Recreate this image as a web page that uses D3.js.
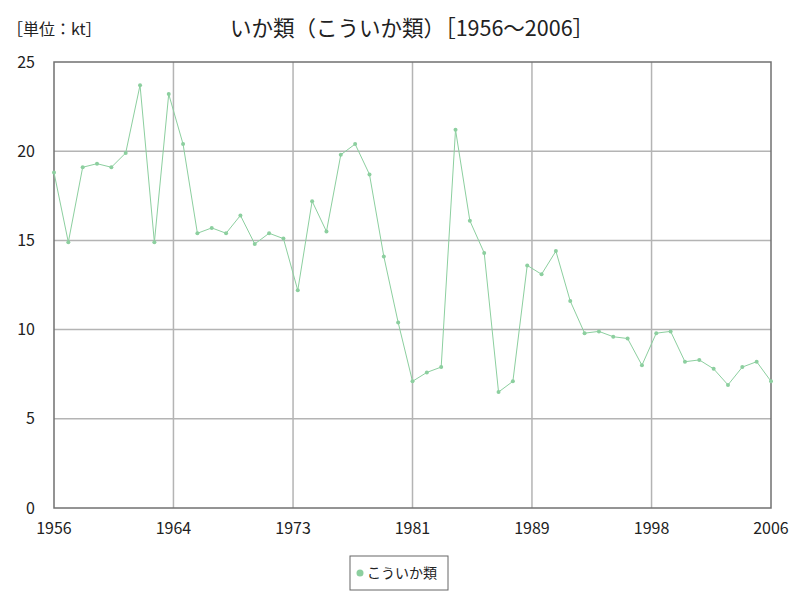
<html><head>
<meta charset="utf-8">
<script src="https://d3js.org/d3.v7.min.js"></script>
<style>
  body { margin: 0; background: #fff; }
  text { font-family: "Noto Sans CJK JP", "Noto Sans", sans-serif; fill: #222; }
  .grid line { stroke: #b4b4b4; stroke-width: 1.5px; }
</style>
</head>
<body>
<svg id="chart" width="800" height="600"></svg>
<script>
  // squid catch (kt), 1956-2006
  const years = d3.range(1956, 2007);
  const values = [
    18.8, 14.9, 19.1, 19.3, 19.1, 19.9, 23.7, 14.9, 23.2, 20.4,
    15.4, 15.7, 15.4, 16.4, 14.8, 15.4, 15.1, 12.2, 17.2, 15.5,
    19.8, 20.4, 18.7, 14.1, 10.4, 7.1, 7.6, 7.9, 21.2, 16.1,
    14.3, 6.5, 7.1, 13.6, 13.1, 14.4, 11.6, 9.8, 9.9, 9.6,
    9.5, 8.0, 9.8, 9.9, 8.2, 8.3, 7.8, 6.9, 7.9, 8.2, 7.1
  ];
  const xTicks = [1956, 1964.33, 1972.67, 1981, 1989.33, 1997.67, 2006];
  const yTicks = [0, 5, 10, 15, 20, 25];
  const seriesName = "こういか類";
  const title = "いか類（こういか類）［1956～2006］";
  const unit = "［単位：kt］";

  const svg = d3.select("#chart");
  const margin = { top: 62, right: 29, bottom: 92, left: 54 };
  const width = 800 - margin.left - margin.right;
  const height = 600 - margin.top - margin.bottom;
  const lineColor = "#8ccf9f";

  const x = d3.scaleLinear().domain([1956, 2006]).range([0, width]);
  const y = d3.scaleLinear().domain([0, 25]).range([height, 0]);

  const plot = svg.append("g")
    .attr("transform", "translate(" + margin.left + "," + margin.top + ")");

  // gridlines
  const grid = plot.append("g").attr("class", "grid");
  grid.selectAll("line.h").data(yTicks.slice(1, -1))
    .join("line").attr("class", "h")
    .attr("x1", 0).attr("x2", width)
    .attr("y1", d => y(d)).attr("y2", d => y(d));
  grid.selectAll("line.v").data(xTicks.slice(1, -1))
    .join("line").attr("class", "v")
    .attr("x1", d => x(d)).attr("x2", d => x(d))
    .attr("y1", 0).attr("y2", height);

  // frame
  plot.append("rect")
    .attr("width", width).attr("height", height)
    .attr("fill", "none").attr("stroke", "#707070").attr("stroke-width", 1.5);

  // tick labels
  plot.selectAll("text.ytick").data(yTicks)
    .join("text").attr("class", "ytick")
    .attr("x", -19).attr("y", d => y(d))
    .attr("dy", "0.35em").attr("text-anchor", "end")
    .attr("font-size", 16)
    .text(d => d);
  plot.selectAll("text.xtick").data(xTicks)
    .join("text").attr("class", "xtick")
    .attr("x", d => x(d)).attr("y", height + 26)
    .attr("text-anchor", "middle")
    .attr("font-size", 16)
    .text(d => Math.round(d));

  // line + points
  const line = d3.line().x((d, i) => x(years[i])).y(d => y(d));
  plot.append("path").datum(values)
    .attr("d", line)
    .attr("fill", "none").attr("stroke", lineColor).attr("stroke-width", 1);
  plot.selectAll("circle").data(values)
    .join("circle")
    .attr("cx", (d, i) => x(years[i])).attr("cy", d => y(d))
    .attr("r", 2).attr("fill", lineColor);

  // titles
  svg.append("text").attr("x", 412).attr("y", 36)
    .attr("text-anchor", "middle").attr("font-size", 21.5)
    .text(title);
  svg.append("text").attr("x", 7).attr("y", 35)
    .attr("font-size", 16)
    .text(unit);

  // legend
  const legend = svg.append("g").attr("transform", "translate(350,556)");
  legend.append("rect").attr("width", 98).attr("height", 34)
    .attr("fill", "#fff").attr("stroke", "#666").attr("stroke-width", 1);
  legend.append("circle").attr("cx", 10).attr("cy", 17).attr("r", 3.5).attr("fill", lineColor);
  legend.append("text").attr("x", 17).attr("y", 17).attr("dy", "0.35em")
    .attr("font-size", 14).text(seriesName);
</script>
</body>
</html>
